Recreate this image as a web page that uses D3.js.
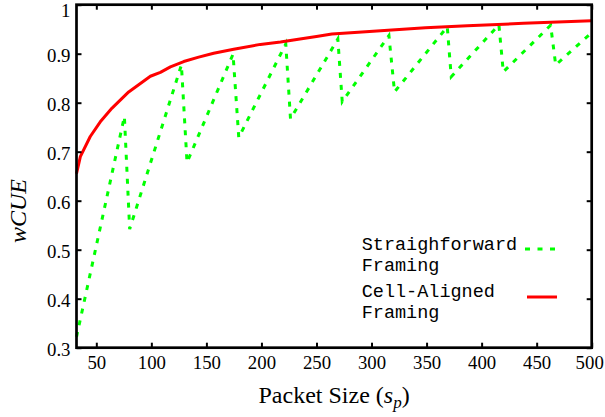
<!DOCTYPE html>
<html><head><meta charset="utf-8">
<script src="https://cdn.jsdelivr.net/npm/d3@7"></script>
<style>
body{margin:0;background:#fff}svg{display:block}
.serif{font-family:"Liberation Serif","Times New Roman",Times,serif}
.mono{font-family:"Liberation Mono","Courier New",Courier,monospace}
</style>
</head><body>
<svg id="c" width="605" height="417"></svg>
<script>
// Data
const straightSp  = [32, 75.5, 80.3, 127.3, 132.4, 174.2, 179.4, 222.1, 226.4, 269.4, 273.4, 315.8, 320.9, 368.8, 372.4, 415.7, 419.7, 462.7, 467.3, 500];
const straightCue = [0.322, 0.772, 0.542, 0.877, 0.678, 0.899, 0.729, 0.920, 0.767, 0.930, 0.802, 0.937, 0.822, 0.955, 0.853, 0.959, 0.863, 0.958, 0.877, 0.943];
const alignedSp  = [32, 35.5, 44.5, 53.6, 64.3, 79.4, 99.1, 108.2, 117.3, 129.4, 143, 156.6, 174.8, 199, 217.3, 235, 250, 264, 288, 315, 349, 387, 438, 500];
const alignedCue = [0.655, 0.690, 0.731, 0.761, 0.789, 0.822, 0.854, 0.862, 0.873, 0.884, 0.893, 0.901, 0.909, 0.919, 0.924, 0.930, 0.935, 0.940, 0.944, 0.948, 0.953, 0.957, 0.962, 0.967];
const xTicks = [50, 100, 150, 200, 250, 300, 350, 400, 450, 500];
const yTicks = [0.3, 0.4, 0.5, 0.6, 0.7, 0.8, 0.9, 1.0];
const yTickLabels = ["0.3", "0.4", "0.5", "0.6", "0.7", "0.8", "0.9", "1"];
const seriesNames = [["Straighforward", "Framing"], ["Cell-Aligned", "Framing"]];

const L = 76.5, R = 591.7, T = 4.7, B = 347.7;
const svg = d3.select("#c");
const x = d3.scaleLinear().domain([32, 500]).range([L, R]);
const y = d3.scaleLinear().domain([0.3, 1.0]).range([B, T]);

const line = d3.line().x(d => x(d[0])).y(d => y(d[1]));
const green = "#00ff00", red = "#ff0000";

const gS = d3.zip(straightSp, straightCue);
const gA = d3.zip(alignedSp, alignedCue);

svg.append("path").datum(gS).attr("d", line).attr("fill", "none")
  .attr("stroke", green).attr("stroke-width", 3).attr("stroke-dasharray", "5,7");
svg.append("path").datum(gA).attr("d", line).attr("fill", "none")
  .attr("stroke", red).attr("stroke-width", 3).attr("stroke-linejoin", "round");

// axes: bottom/left with labels, top/right mirrored ticks
const tl = 5;
const axB = d3.axisBottom(x).tickValues(xTicks).tickSizeInner(-tl).tickSizeOuter(0).tickPadding(7.5).tickFormat(d3.format("d"));
const axT = d3.axisTop(x).tickValues(xTicks).tickSizeInner(-tl).tickSizeOuter(0).tickFormat("");
const axL = d3.axisLeft(y).tickValues(yTicks).tickSizeInner(-tl).tickSizeOuter(0).tickPadding(6).tickFormat((d, i) => yTickLabels[i]);
const axR = d3.axisRight(y).tickValues(yTicks).tickSizeInner(-tl).tickSizeOuter(0).tickFormat("");

function style(g) {
  g.attr("font-family", null).attr("font-size", null);
  g.select(".domain").remove();
  g.selectAll(".tick line").attr("stroke", "#000").attr("stroke-width", 2);
  g.selectAll(".tick text").attr("fill", "#000").attr("class", "serif").style("font-size", "18.8px");
}
const gb = svg.append("g").attr("transform", `translate(0,${B})`).call(axB).call(style);
gb.selectAll(".tick text").filter(d => d === 500).attr("dx", "-2.5");
svg.append("g").attr("transform", `translate(0,${T})`).call(axT).call(style);
const gl = svg.append("g").attr("transform", `translate(${L},0)`).call(axL).call(style);
gl.selectAll(".tick text").attr("dy", "0.44em");
gl.selectAll(".tick text").filter(d => d === 1.0).attr("dy", "0.62em");
svg.append("g").attr("transform", `translate(${R},0)`).call(axR).call(style);

svg.append("rect").attr("x", L).attr("y", T).attr("width", R - L).attr("height", B - T)
  .attr("fill", "none").attr("stroke", "#000").attr("stroke-width", 2.7);

// axis titles
svg.append("text").attr("class", "serif").attr("transform", "translate(26,211) rotate(-90)")
  .attr("text-anchor", "middle").style("font-size", "24px")
  .style("font-style", "italic").text("wCUE");

const xl = svg.append("text").attr("class", "serif").attr("x", (L + R) / 2).attr("y", 403).attr("text-anchor", "middle")
  .style("font-size", "24px");
xl.append("tspan").text("Packet Size (");
xl.append("tspan").style("font-style", "italic").text("s");
xl.append("tspan").style("font-style", "italic").style("font-size", "17px").attr("dy", 5).text("p");
xl.append("tspan").attr("dy", -5).text(")");

// legend
const legY = [[250, 271], [296.7, 318.3]];
seriesNames.forEach((names, i) => {
  names.forEach((n, j) => {
    svg.append("text").attr("class", "mono").attr("x", 361.7).attr("y", legY[i][j])
      .style("font-size", "18.5px").attr("fill", "#000").text(n);
  });
});
svg.append("line").attr("x1", 525).attr("x2", 557).attr("y1", 249).attr("y2", 249)
  .attr("stroke", green).attr("stroke-width", 3).attr("stroke-dasharray", "5,7.5");
svg.append("line").attr("x1", 527).attr("x2", 557).attr("y1", 297).attr("y2", 297)
  .attr("stroke", red).attr("stroke-width", 3);
</script>
</body></html>
